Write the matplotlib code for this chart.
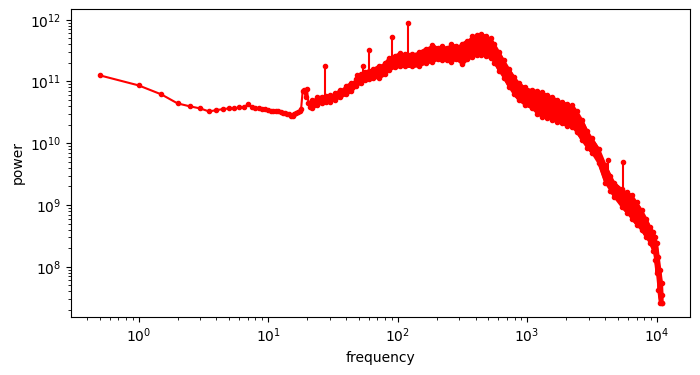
import matplotlib
matplotlib.use('Agg')
import matplotlib.pyplot as plt

# low frequency part, every bin visible as its own dot
freq_low = [0.5, 1.0, 1.5, 2.0, 2.5, 3.0, 3.5, 4.0, 4.5, 5.0, 5.5, 6.0, 6.5, 7.0,
            7.5, 8.0, 8.5, 9.0, 9.5, 10.0, 10.5, 11.0, 11.5, 12.0, 12.5, 13.0,
            13.5, 14.0, 14.5, 15.0, 15.5, 16.0, 16.5, 17.0, 17.5, 18.0, 18.5,
            19.0, 19.5, 20.0, 20.5, 21.0, 21.5, 22.0]
power_low = [1.26e11, 8.65e10, 6.18e10, 4.42e10, 3.95e10, 3.66e10, 3.27e10,
             3.44e10, 3.57e10, 3.66e10, 3.66e10, 3.80e10, 3.85e10, 4.25e10,
             3.85e10, 3.75e10, 3.70e10, 3.65e10, 3.60e10, 3.50e10, 3.35e10,
             3.30e10, 3.30e10, 3.28e10, 3.20e10, 3.12e10, 3.05e10, 2.98e10,
             2.92e10, 2.80e10, 2.75e10, 2.95e10, 3.10e10, 3.25e10, 3.35e10,
             3.60e10, 6.90e10, 7.20e10, 5.60e10, 7.45e10, 4.50e10, 3.90e10,
             4.60e10, 4.10e10]

# dense noisy part: upper and lower edge of the band
band_freq = [22, 24, 26, 28, 30, 33, 36, 40, 44, 48, 52, 56, 60, 65, 72, 80, 86,
             95, 105, 115, 130, 147, 165, 186, 205, 222, 240, 258, 285, 316, 345,
             378, 410, 438, 480, 523, 560, 606, 660, 723, 790, 863, 960, 1092,
             1200, 1304, 1420, 1556, 1700, 1858, 2030, 2218, 2420, 2649, 2900,
             3162, 3562, 4010, 4400, 4700, 5383, 5900, 6427, 7000, 7674, 8300,
             8892, 9440, 9725, 10000, 10300, 10620, 10920, 11025]
band_hi = [5.0e10, 5.6e10, 5.7e10, 5.8e10, 6.0e10, 6.5e10, 7.2e10, 8.5e10, 9.5e10,
           1.1e11, 1.3e11, 1.45e11, 1.5e11, 1.6e11, 1.8e11, 2.0e11, 2.4e11,
           2.6e11, 2.9e11, 2.8e11, 2.8e11, 3.0e11, 3.4e11, 3.9e11, 3.5e11,
           3.7e11, 3.5e11, 4.1e11, 3.7e11, 4.1e11, 4.6e11, 5.4e11, 5.6e11,
           5.9e11, 5.5e11, 5.0e11, 4.0e11, 3.0e11, 2.2e11, 1.6e11, 1.2e11,
           9.5e10, 8.0e10, 7.3e10, 7.0e10, 6.8e10, 6.0e10, 5.7e10, 5.0e10,
           4.7e10, 4.3e10, 4.2e10, 3.3e10, 2.4e10, 1.6e10, 1.2e10, 8.2e9,
           4.5e9, 3.0e9, 2.3e9, 1.8e9, 1.6e9, 1.45e9, 1.1e9, 8.2e8, 6.0e8,
           4.4e8, 3.7e8, 3.0e8, 2.4e8, 1.45e8, 8.8e7, 5.4e7, 3.5e7]
band_lo = [3.7e10, 4.2e10, 4.5e10, 4.6e10, 4.7e10, 5.1e10, 5.6e10, 6.2e10, 7.0e10,
           8.5e10, 9.5e10, 1.05e11, 1.1e11, 1.15e11, 1.15e11, 1.3e11, 1.55e11,
           1.7e11, 1.75e11, 1.75e11, 1.75e11, 1.8e11, 2.0e11, 2.1e11, 2.3e11,
           2.25e11, 2.2e11, 2.1e11, 2.3e11, 1.9e11, 2.3e11, 2.5e11, 2.7e11,
           2.7e11, 2.6e11, 2.4e11, 2.0e11, 1.5e11, 1.15e11, 8.2e10, 6.2e10,
           5.0e10, 4.2e10, 3.7e10, 3.0e10, 2.7e10, 2.6e10, 2.4e10, 2.2e10,
           2.1e10, 1.9e10, 1.85e10, 1.5e10, 1.12e10, 8.5e9, 7.0e9, 4.7e9,
           2.3e9, 1.7e9, 1.35e9, 9.3e8, 7.5e8, 6.0e8, 4.8e8, 3.9e8, 3.0e8,
           2.4e8, 1.8e8, 1.27e8, 7.8e7, 4.2e7, 2.6e7, 2.6e7, 2.6e7]

# single peaks standing out of the band
spike_freq = [27.5, 48.5, 54.0, 60.0, 90.0, 120.0, 4250.0, 5475.0]
spike_base = [5.5e10, 8.5e10, 1.1e11, 1.3e11, 2.4e11, 2.8e11, 3.0e9, 1.74e9]
spike_peak = [1.78e11, 1.27e11, 1.8e11, 3.23e11, 5.25e11, 8.85e11, 5.3e9, 5.0e9]

# one zigzag series through the band edges
zig_f = []
zig_p = []
for i in range(len(band_freq)):
    zig_f.append(band_freq[i])
    zig_p.append(band_hi[i] if i % 2 == 0 else band_lo[i])
    zig_f.append(band_freq[i])
    zig_p.append(band_lo[i] if i % 2 == 0 else band_hi[i])

fig = plt.figure(figsize=(7, 3.75), dpi=100)
ax = fig.add_subplot(111)
fig.subplots_adjust(left=0.102, right=0.986, top=0.976, bottom=0.155)

ax.fill_between(band_freq, band_lo, band_hi, color='r', linewidth=1.5)
ax.plot(freq_low + zig_f, power_low + zig_p, 'r.-')
for i in range(len(spike_freq)):
    ax.plot([spike_freq[i], spike_freq[i]], [spike_base[i], spike_peak[i]], 'r-')
ax.plot(spike_freq, spike_peak, 'r.', linestyle='none')

ax.set_xscale('log')
ax.set_yscale('log')
ax.set_xlabel("frequency")
ax.set_ylabel("power")
plt.savefig('out.png')
